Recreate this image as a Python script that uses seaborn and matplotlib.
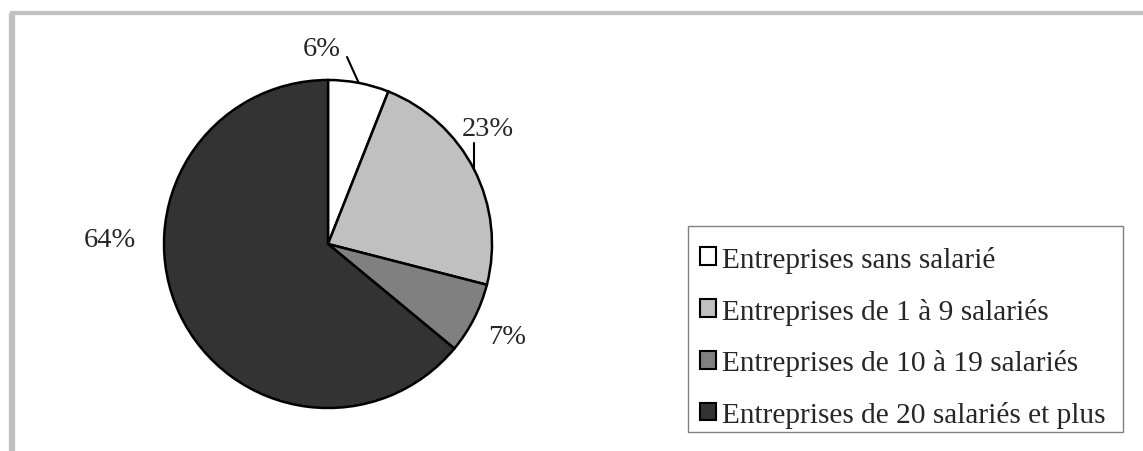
import matplotlib
matplotlib.use("Agg")
import numpy as np
import matplotlib.pyplot as plt
from matplotlib.patches import Rectangle
import seaborn as sns

categories = ["Entreprises sans salarié", "Entreprises de 1 à 9 salariés",
              "Entreprises de 10 à 19 salariés", "Entreprises de 20 salariés et plus"]
shares = [6, 23, 7, 64]
pct_labels = ["6%", "23%", "7%", "64%"]
colors = ["#ffffff", "#c0c0c0", "#808080", "#333333"]

sns.set_theme(style="white")
plt.rcParams['font.family'] = ['Liberation Serif', 'DejaVu Serif']

W, H = 1143, 452
fig = plt.figure(figsize=(W / 100, H / 100), dpi=100)
ax = fig.add_axes([0, 0, 1, 1])

# pie centre / radius in pixel units
cx, cy, r = 328, H - 245, 164
wedges, _ = ax.pie(shares, colors=colors, startangle=90, counterclock=False,
                   center=(cx, cy), radius=r,
                   wedgeprops=dict(edgecolor="black", linewidth=1.8))
ax.set_xlim(0, W)
ax.set_ylim(0, H)
ax.set_aspect("equal")
ax.axis("off")

# label placement (pixel positions of label centres)
label_pos = [(322, H - 49), (488, H - 130), (507, H - 338), (110, H - 241)]
for txt, (lx, ly) in zip(pct_labels, label_pos):
    ax.text(lx, ly, txt, fontsize=20.5, ha="center", va="center")

# leader lines for the two small top labels
def mid_angle(w):
    return np.deg2rad((w.theta1 + w.theta2) / 2)

a = mid_angle(wedges[0])
ax.plot([cx + r * np.cos(a), 347], [cy + r * np.sin(a), H - 58], color="black", lw=1.5)
a = mid_angle(wedges[1])
x0 = cx + r * np.cos(a)
ax.plot([x0, x0], [cy + r * np.sin(a), H - 144], color="black", lw=1.5)

# outer frame (left / top)
ax.plot([12, 12], [0, H - 13.5], color="#c0c0c0", lw=4.5, solid_capstyle="butt")
ax.plot([10, W], [H - 13.5, H - 13.5], color="#c0c0c0", lw=3, solid_capstyle="butt")

# legend box drawn separately so rows sit like the original
ax.add_patch(Rectangle((688, H - 433), 435, 206, facecolor="none",
                       edgecolor="#808080", lw=1))
leg = ax.legend(wedges, categories, loc="upper left",
                bbox_to_anchor=(688 / W, 1 - 235 / H),
                fontsize=21.2, frameon=False,
                handlelength=0.55, handleheight=0.55, handletextpad=0.2,
                labelspacing=0.84, borderpad=0.4, borderaxespad=0)
for h in leg.legend_handles:
    h.set_linewidth(1.5)

fig.savefig("out.png", dpi=100)
